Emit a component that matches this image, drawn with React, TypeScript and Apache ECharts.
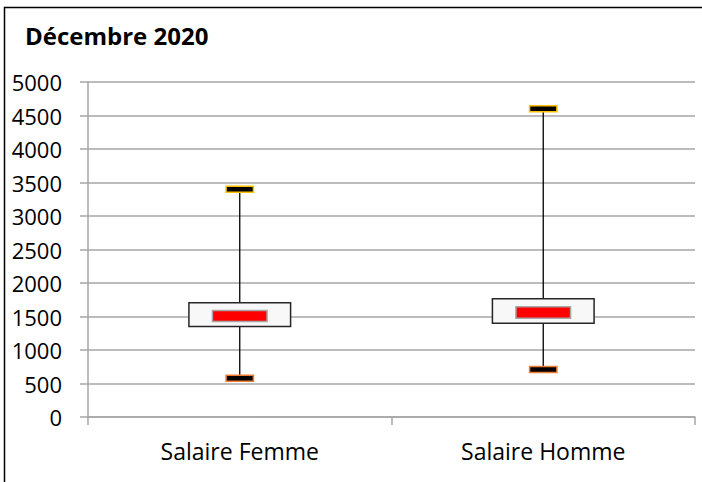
import React, { useEffect, useRef } from "react";
import * as echarts from "echarts";

const categories = ["Salaire Femme", "Salaire Homme"];
const minValues = [578, 710];
const q1Values = [1350, 1400];
const q3Values = [1705, 1765];
const maxValues = [3400, 4600];
const medianBandLow = [1425, 1475];
const medianBandHigh = [1590, 1645];
const yTicks = { min: 0, max: 5000, interval: 500 };

export default function App() {
  const ref = useRef<HTMLDivElement>(null);
  useEffect(() => {
    if (!ref.current) return;
    const chart = echarts.init(ref.current, null, { renderer: "svg" });
    const data = categories.map((c, i) => [
      i,
      minValues[i],
      q1Values[i],
      q3Values[i],
      maxValues[i],
      medianBandLow[i],
      medianBandHigh[i],
    ]);
    const font = "'Open Sans', 'Noto Sans', sans-serif";
    chart.setOption({
      animation: false,
      backgroundColor: "#ffffff",
      title: {
        text: "Décembre 2020",
        left: 20,
        top: 18,
        textStyle: { fontFamily: font, fontSize: 24, fontWeight: "bold", color: "#000" },
      },
      graphic: [
        {
          type: "rect",
          shape: { x: 4.5, y: 7.5, width: 800, height: 600 },
          style: { fill: "none", stroke: "#000", lineWidth: 1.5 },
          silent: true,
        },
      ],
      grid: { left: 88, top: 82, right: 7, bottom: 65, containLabel: false },
      xAxis: {
        type: "category",
        data: categories,
        boundaryGap: true,
        axisLine: { show: true, lineStyle: { color: "#A6A6A6", width: 1.5 } },
        axisTick: { show: true, length: 8, lineStyle: { color: "#A6A6A6", width: 1.5 } },
        axisLabel: { fontFamily: font, fontSize: 23, color: "#000", margin: 22 },
        splitLine: { show: false },
      },
      yAxis: {
        type: "value",
        min: yTicks.min,
        max: yTicks.max,
        interval: yTicks.interval,
        axisLine: { show: true, lineStyle: { color: "#A6A6A6", width: 1.5 } },
        axisTick: { show: true, length: 8, lineStyle: { color: "#A6A6A6", width: 1.5 } },
        axisLabel: {
          fontFamily: font,
          fontSize: 22,
          color: "#000",
          margin: 26,
          formatter: (v: number) => String(v),
        },
        splitLine: { show: true, lineStyle: { color: "#A6A6A6", width: 1.5 } },
      },
      series: [
        {
          type: "custom",
          data,
          encode: { x: 0, y: [1, 2, 3, 4] },
          renderItem: (params: any, api: any) => {
            const idx = api.value(0);
            const pMin = api.coord([idx, api.value(1)]);
            const pQ1 = api.coord([idx, api.value(2)]);
            const pQ3 = api.coord([idx, api.value(3)]);
            const pMax = api.coord([idx, api.value(4)]);
            const pLo = api.coord([idx, api.value(5)]);
            const pHi = api.coord([idx, api.value(6)]);
            const band = api.size([1, 0])[0];
            const cx = pQ1[0];
            const boxW = band * 0.335;
            const redW = band * 0.18;
            const capW = band * 0.09;
            const capH = 6;
            return {
              type: "group",
              children: [
                {
                  type: "line",
                  shape: { x1: cx, y1: pMax[1], x2: cx, y2: pQ3[1] },
                  style: { stroke: "#000", lineWidth: 1.3 },
                },
                {
                  type: "line",
                  shape: { x1: cx, y1: pQ1[1], x2: cx, y2: pMin[1] },
                  style: { stroke: "#000", lineWidth: 1.3 },
                },
                {
                  type: "rect",
                  shape: { x: cx - boxW / 2, y: pQ3[1], width: boxW, height: pQ1[1] - pQ3[1] },
                  style: { fill: "#F8F8F8", stroke: "#262626", lineWidth: 1.5 },
                },
                {
                  type: "rect",
                  shape: { x: cx - redW / 2, y: pHi[1], width: redW, height: pLo[1] - pHi[1] },
                  style: { fill: "#FF0000", stroke: "#A6A6A6", lineWidth: 1.5 },
                },
                {
                  type: "rect",
                  shape: { x: cx - capW / 2, y: pMax[1] - capH / 2, width: capW, height: capH },
                  style: { fill: "#000", stroke: "#FFC000", lineWidth: 1.5 },
                },
                {
                  type: "rect",
                  shape: { x: cx - capW / 2, y: pMin[1] - capH / 2, width: capW, height: capH },
                  style: { fill: "#000", stroke: "#ED7D31", lineWidth: 1.5 },
                },
              ],
            };
          },
        },
      ],
    });
    return () => chart.dispose();
  }, []);
  return (
    <div
      ref={ref}
      style={{ position: "fixed", left: 0, top: 0, width: 702, height: 482 }}
    />
  );
}
